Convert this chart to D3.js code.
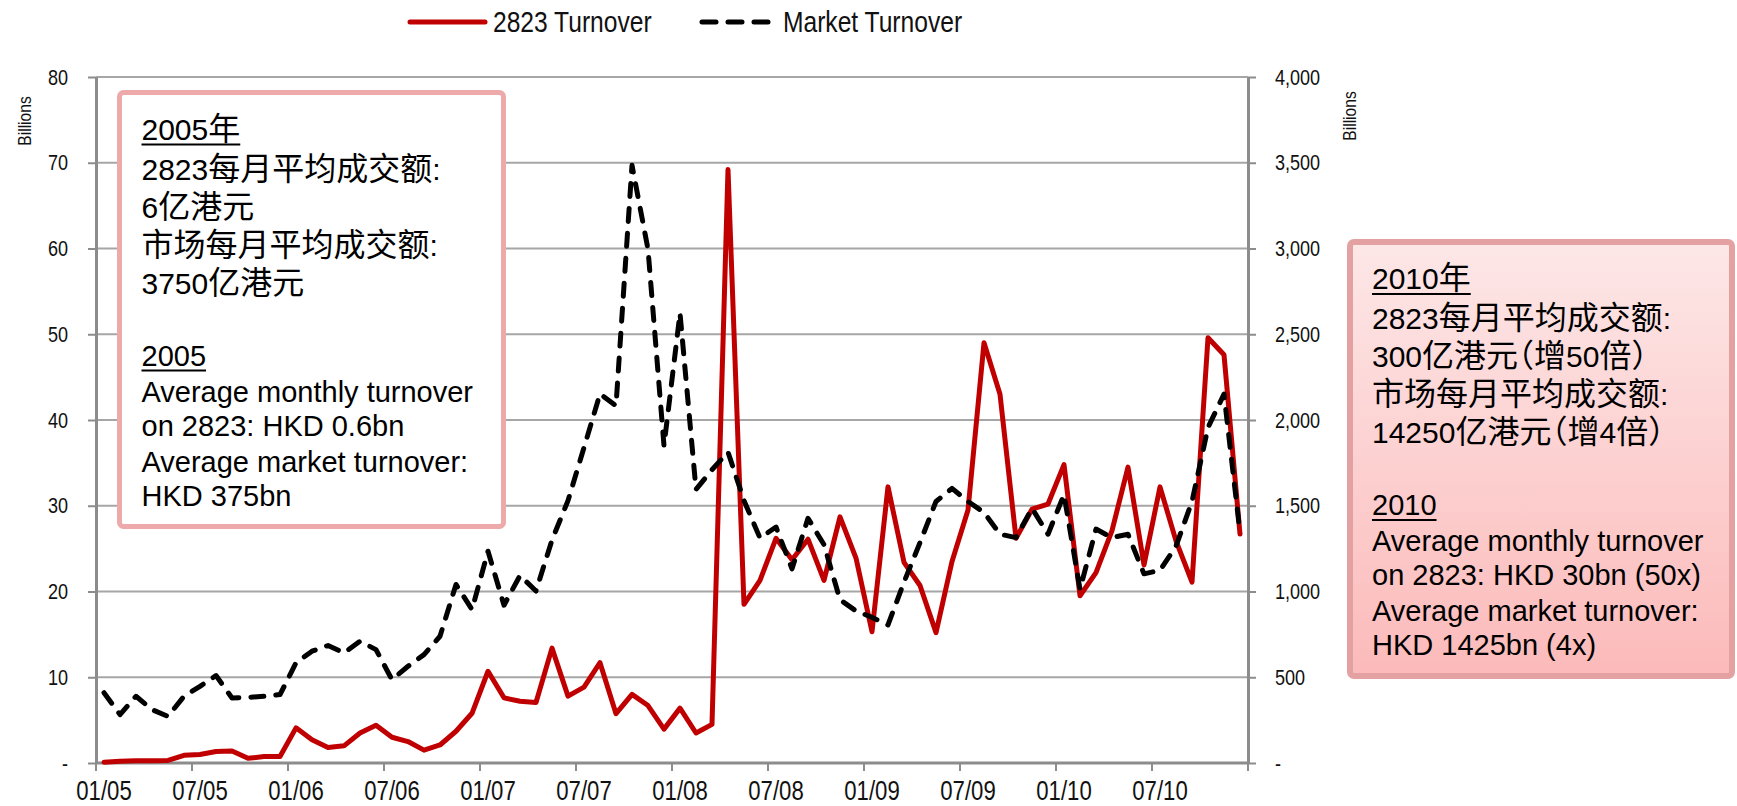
<!DOCTYPE html>
<html><head><meta charset="utf-8">
<script src="https://cdn.jsdelivr.net/npm/d3@7"></script>
<style>
html,body{margin:0;padding:0;background:#fff;}
svg{display:block;}
</style></head><body>
<svg id="c" width="1737" height="806"></svg>
<script>
// ---------- DATA ----------
const months = d3.timeMonths(new Date(2005,0,1), new Date(2011,0,1)).map(d3.timeFormat("%Y-%m"));
// 2823 monthly turnover (HKD billions, left axis)
const etf2823 = [
  0.1, 0.2, 0.25, 0.25, 0.3, 0.9, 1.0, 1.35, 1.4, 0.55, 0.75, 0.75,
  4.1, 2.7, 1.8, 2.0, 3.5, 4.4, 3.0, 2.5, 1.5, 2.1, 3.7, 5.8,
  10.7, 7.6, 7.2, 7.05, 13.4, 7.8, 8.85, 11.7, 5.75, 8.0, 6.7, 3.95,
  6.4, 3.5, 4.5, 69.2, 18.5, 21.3, 26.2, 23.7, 26.1, 21.3, 28.7, 23.9,
  15.3, 32.2, 23.4, 20.7, 15.2, 23.5, 29.5, 49.0, 43.0, 26.2, 29.6, 30.2,
  34.8, 19.5, 22.2, 27.1, 34.5, 23.1, 32.2, 25.9, 21.1, 49.6, 47.6, 26.7
];
// Market monthly turnover (HKD billions, right axis)
const market = [
  410, 282, 389, 311, 272, 389, 447, 510, 379, 383, 389, 399,
  584, 652, 685, 642, 710, 661, 486, 564, 632, 739, 1041, 895,
  1235, 920, 1093, 1003, 1300, 1530, 1839, 2153, 2083, 3485, 2996, 1850,
  2623, 1595, 1710, 1813, 1530, 1312, 1376, 1132, 1427, 1273, 952, 887,
  849, 805, 1055, 1285, 1525, 1601, 1525, 1461, 1334, 1314, 1485, 1334,
  1565, 1013, 1364, 1314, 1334, 1103, 1124, 1264, 1525, 1956, 2151, 1344
];
const xTickMonths = ["2005-01","2005-07","2006-01","2006-07","2007-01","2007-07","2008-01","2008-07","2009-01","2009-07","2010-01","2010-07"];
const xTickLabels = ["01/05","07/05","01/06","07/06","01/07","07/07","01/08","07/08","01/09","07/09","01/10","07/10"];
const leftTicks = [0,10,20,30,40,50,60,70,80];
const rightTicks = [0,500,1000,1500,2000,2500,3000,3500,4000];
const seriesNames = ["2823 Turnover","Market Turnover"];
const box2005Lines = ["2005年","2823每月平均成交额:","6亿港元","市场每月平均成交额:","3750亿港元","","2005","Average monthly turnover","on 2823: HKD 0.6bn","Average market turnover:","HKD 375bn"];
const box2010Lines = ["2010年","2823每月平均成交额:","300亿港元（增50倍）","市场每月平均成交额:","14250亿港元（增4倍）","","2010","Average monthly turnover","on 2823: HKD 30bn (50x)","Average market turnover:","HKD 1425bn (4x)"];

// ---------- LAYOUT ----------
const svg = d3.select("#c");
const P = {l:96, r:1248, t:77, b:763};
const RED = "#c00000", GRID = "#a6a6a6", AXIS = "#8c8c8c";
const SANS = "'Liberation Sans',Arial,sans-serif";

// condensed look (Arial Narrow-like) by compressing Liberation Sans glyphs
function narrow(sel, size){
  sel.attr("font-family",SANS).attr("font-size",size).attr("fill","#111")
    .each(function(){
      const w = this.getComputedTextLength();
      this.setAttribute("textLength", (w*0.82).toFixed(2));
      this.setAttribute("lengthAdjust","spacingAndGlyphs");
    });
}

const x = d3.scaleBand().domain(months).range([P.l, P.r]).padding(0);
const cx = m => x(m) + x.bandwidth()/2;
const yL = d3.scaleLinear().domain([0,80]).range([P.b, P.t]);
const yR = d3.scaleLinear().domain([0,4000]).range([P.b, P.t]);

// gridlines
svg.append("g").selectAll("line").data(leftTicks.filter(v=>v>0)).join("line")
  .attr("x1",P.l).attr("x2",P.r).attr("y1",d=>yL(d)).attr("y2",d=>yL(d))
  .attr("stroke",GRID).attr("stroke-width",2);

// left axis
const gL = svg.append("g").attr("transform",`translate(${P.l},0)`)
  .call(d3.axisLeft(yL).tickValues(leftTicks).tickSize(8).tickSizeOuter(0).tickPadding(20)
    .tickFormat(v => v===0 ? "-" : String(v)));
// right axis
const gR = svg.append("g").attr("transform",`translate(${P.r},0)`)
  .call(d3.axisRight(yR).tickValues(rightTicks).tickSize(8).tickSizeOuter(0).tickPadding(19)
    .tickFormat(v => v===0 ? "-" : d3.format(",")(v)));
// bottom axis (labels centred on categories, ticks on category boundaries)
const gB = svg.append("g").attr("transform",`translate(0,${P.b})`)
  .call(d3.axisBottom(x).tickValues(xTickMonths).tickSize(0).tickSizeOuter(0).tickPadding(18)
    .tickFormat((m,i) => xTickLabels[i]));
gB.selectAll(".tick line").remove();
svg.append("g").selectAll("line").data(xTickMonths.map(m=>x(m)).concat([P.r])).join("line")
  .attr("x1",d=>d).attr("x2",d=>d).attr("y1",P.b).attr("y2",P.b+8)
  .attr("stroke",AXIS).attr("stroke-width",2);

[gL,gR,gB].forEach(g=>{
  g.select(".domain").attr("stroke",AXIS).attr("stroke-width",3);
  g.selectAll(".tick line").attr("stroke",AXIS).attr("stroke-width",2);
});
narrow(gL.selectAll("text"), 22);
narrow(gR.selectAll("text"), 22);
narrow(gB.selectAll("text"), 27);
gB.select(".domain").attr("d",`M${P.l},0H${P.r}`);

// "Billions" labels
narrow(svg.append("text").attr("text-anchor","middle")
  .attr("transform","translate(31,121) rotate(-90)").text("Billions"), 19);
narrow(svg.append("text").attr("text-anchor","middle")
  .attr("transform","translate(1356,116) rotate(-90)").text("Billions"), 19);

// series lines
const lineL = d3.line().x((d,i)=>cx(months[i])).y(d=>yL(d));
const lineR = d3.line().x((d,i)=>cx(months[i])).y(d=>yR(d));
svg.append("path").datum(etf2823).attr("d",lineL).attr("fill","none")
  .attr("stroke",RED).attr("stroke-width",5).attr("stroke-linejoin","round").attr("stroke-linecap","round");
svg.append("path").datum(market).attr("d",lineR).attr("fill","none")
  .attr("stroke","#000").attr("stroke-width",5).attr("stroke-dasharray","13,12")
  .attr("stroke-linejoin","round").attr("stroke-linecap","round");

// legend
const lg = svg.append("g");
lg.append("line").attr("x1",410).attr("x2",485).attr("y1",22).attr("y2",22)
  .attr("stroke",RED).attr("stroke-width",5).attr("stroke-linecap","round");
narrow(lg.append("text").attr("x",493).attr("y",32).text(seriesNames[0]), 30);
lg.append("line").attr("x1",702).attr("x2",768).attr("y1",22).attr("y2",22)
  .attr("stroke","#000").attr("stroke-width",5).attr("stroke-dasharray","14,12").attr("stroke-linecap","round");
narrow(lg.append("text").attr("x",783).attr("y",32).text(seriesNames[1]), 30);

// annotation boxes
const defs = svg.append("defs");
const gr = defs.append("linearGradient").attr("id","pinkGrad").attr("x1",0).attr("y1",0).attr("x2",0).attr("y2",1);
gr.append("stop").attr("offset","0%").attr("stop-color","#fde7e7");
gr.append("stop").attr("offset","100%").attr("stop-color","#fcbaba");

const baseOffsets = [47,87,125,163,201,null,273,309,343,379,413];
const cjkRe = /[\u3000-\u303f\u4e00-\u9fff\uff00-\uffef]+|[^\u3000-\u303f\u4e00-\u9fff\uff00-\uffef]+/g;
const isCJK = s => /[\u3000-\u303f\u4e00-\u9fff\uff00-\uffef]/.test(s);

function drawBox(bx, by, bw, bh, fill, stroke, sw, lines){
  const g = svg.append("g");
  g.append("rect").attr("x",bx).attr("y",by).attr("width",bw).attr("height",bh)
    .attr("rx",4).attr("fill",fill).attr("stroke",stroke).attr("stroke-width",sw);
  lines.forEach((ln,i)=>{
    if(!ln) return;
    const hasCJK = isCJK(ln);
    const t = g.append("text").attr("x",bx+22).attr("y",by+baseOffsets[i]).attr("fill","#000");
    (ln.match(cjkRe)||[]).forEach(run=>{
      const c = isCJK(run);
      t.append("tspan")
        .attr("font-family", c ? "'Liberation Sans','Noto Sans CJK SC',sans-serif" : SANS)
        .attr("font-size", c ? 32 : (hasCJK ? 30 : 29))
        .style("font-feature-settings", c ? "'halt' 1" : null)
        .text(run);
    });
    if(i===0 || i===6){
      const w = t.node().getComputedTextLength();
      g.append("line").attr("x1",bx+22).attr("x2",bx+22+w)
        .attr("y1",by+baseOffsets[i]+5).attr("y2",by+baseOffsets[i]+5)
        .attr("stroke","#000").attr("stroke-width",2);
    }
  });
}
drawBox(119.5, 92.5, 384, 434, "#fff", "#eeaaaa", 5, box2005Lines);
drawBox(1350, 242, 382, 434, "url(#pinkGrad)", "#e3a1a1", 6, box2010Lines);
</script>
</body></html>
